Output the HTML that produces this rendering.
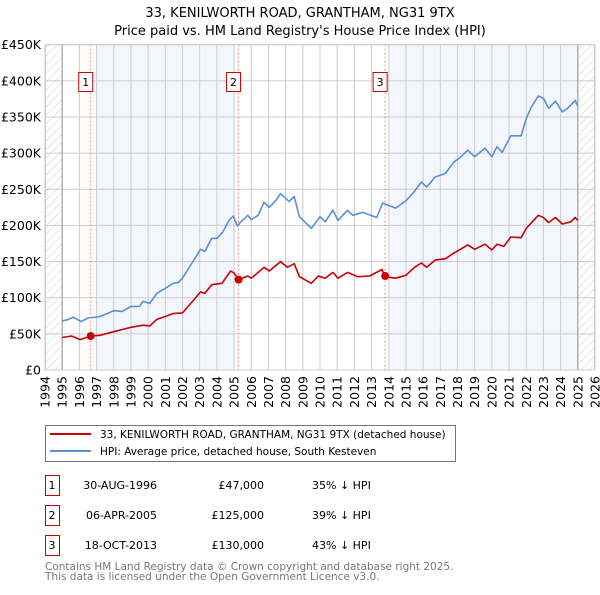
<!DOCTYPE html>
<html><head><meta charset="utf-8"><style>
body{margin:0;background:#fff;font-family:"Liberation Sans","DejaVu Sans",sans-serif;}
svg text{font-family:"DejaVu Sans","Liberation Sans",sans-serif;}
</style></head><body>
<svg id="chart" width="600" height="590" viewBox="0 0 600 590" xmlns="http://www.w3.org/2000/svg">
<defs>
<pattern id="hatch" patternUnits="userSpaceOnUse" width="6" height="6" patternTransform="rotate(45)">
<line x1="0" y1="0" x2="0" y2="6" stroke="#ccc" stroke-width="1"/></pattern>
</defs>
<text x="300" y="17" text-anchor="middle" font-size="13">33, KENILWORTH ROAD, GRANTHAM, NG31 9TX</text>
<text x="300" y="35" text-anchor="middle" font-size="13">Price paid vs. HM Land Registry's House Price Index (HPI)</text>
<g id="plot"></g>
<g>
<rect x="45.5" y="425.5" width="410" height="36" fill="#fff" stroke="#777"/>
<line x1="50" y1="434" x2="91" y2="434" stroke="#cc0000" stroke-width="2"/>
<text x="100" y="438" font-size="10.5">33, KENILWORTH ROAD, GRANTHAM, NG31 9TX (detached house)</text>
<line x1="50" y1="451" x2="91" y2="451" stroke="#5b8fd4" stroke-width="2"/>
<text x="100" y="455" font-size="10.5">HPI: Average price, detached house, South Kesteven</text>
</g>
<g id="table" font-size="11"></g>
<text x="45" y="570" font-size="10.5" fill="#777">Contains HM Land Registry data © Crown copyright and database right 2025.</text>
<text x="45" y="580" font-size="10.5" fill="#777">This data is licensed under the Open Government Licence v3.0.</text>
</svg>
<script>
const hpiYears=[1995,1995.25,1995.65,1996.1,1996.5,1997.2,1998,1998.5,1999,1999.5,1999.7,2000.1,2000.5,2001,2001.45,2001.75,2002,2002.55,2003.05,2003.3,2003.7,2004,2004.35,2004.7,2004.95,2005.2,2005.4,2005.8,2006,2006.4,2006.75,2007.05,2007.45,2007.7,2008.2,2008.5,2008.8,2009.5,2010,2010.3,2010.75,2011.05,2011.6,2011.9,2012.5,2013.3,2013.65,2014.4,2015,2015.5,2015.9,2016.2,2016.7,2017.3,2017.8,2018.1,2018.6,2019,2019.6,2020,2020.3,2020.6,2021.1,2021.7,2022,2022.3,2022.7,2023,2023.3,2023.7,2024.1,2024.4,2024.85,2025];
const hpiValues=[68,69,73,67,72,74,82,81,88,88,95,92,106,113,120,121,127,148,167,164,182,182,191,207,213,199,205,214,208,214,232,225,235,244,233,240,212,196,212,205,221,207,221,214,218,211,231,224,234,247,260,253,267,272,288,293,304,295,307,295,309,301,324,324,348,364,379,376,362,372,357,362,373,365];
const ppYears=[1995,1995.55,1996.05,1996.66,1997.2,1998,1999,1999.7,2000.1,2000.5,2001,2001.45,2002,2002.55,2003.05,2003.3,2003.7,2004.3,2004.8,2005.0,2005.26,2005.8,2006,2006.75,2007.05,2007.7,2008.1,2008.5,2008.8,2009.5,2009.9,2010.3,2010.75,2011.05,2011.6,2012.2,2012.9,2013.6,2013.79,2014.4,2015,2015.5,2015.9,2016.2,2016.7,2017.3,2017.8,2018.1,2018.6,2019,2019.6,2020,2020.3,2020.7,2021.1,2021.7,2022,2022.7,2023,2023.3,2023.7,2024.1,2024.6,2024.85,2025];
const ppValues=[45,47,42,47,48,53,59,62,61,70,74,78,79,94,108,106,118,120,137,134,125,130,127,142,137,150,142,147,129,120,130,127,135,127,135,129,130,139,129,127,131,142,148,142,152,154,162,166,173,167,174,166,174,171,184,183,196,214,211,204,211,202,205,211,207];
const saleLabels=["1","2","3"];
const saleYears=[1996.66,2005.26,2013.79];
const salePrices=[47,125,130];
const saleDates=["30-AUG-1996","06-APR-2005","18-OCT-2013"];
const salePriceText=["£47,000","£125,000","£130,000"];
const saleHpiText=["35% ↓ HPI","39% ↓ HPI","43% ↓ HPI"];
const yTicks=[0,50,100,150,200,250,300,350,400,450];
const yTickLabels=["£0","£50K","£100K","£150K","£200K","£250K","£300K","£350K","£400K","£450K"];
const xTicks=[1994,1995,1996,1997,1998,1999,2000,2001,2002,2003,2004,2005,2006,2007,2008,2009,2010,2011,2012,2013,2014,2015,2016,2017,2018,2019,2020,2021,2022,2023,2024,2025,2026];

const X0=45,X1=595,Y0=370,Y1=44.7,YMIN=1994,YMAX=2026;
const xs=y=>X0+(y-YMIN)/(YMAX-YMIN)*(X1-X0);
const ys=v=>Y0-(v/450)*(Y0-Y1);
const NS="http://www.w3.org/2000/svg";
const plot=document.getElementById('plot');
function mk(tag,attrs,parent){const e=document.createElementNS(NS,tag);for(const k in attrs)e.setAttribute(k,attrs[k]);(parent||plot).appendChild(e);return e;}

let r=mk('rect',{x:xs(1997),y:Y1,width:xs(2005)-xs(1997),height:Y0-Y1,fill:'#eef3fc',opacity:0.7});


r=mk('rect',{x:xs(2014),y:Y1,width:xs(2025)-xs(2014),height:Y0-Y1,fill:'#eef3fc',opacity:0.7});


r=mk('rect',{x:X0,y:Y1,width:xs(1995)-X0,height:Y0-Y1,fill:'url(#hatch)'});


r=mk('rect',{x:xs(2025),y:Y1,width:X1-xs(2025),height:Y0-Y1,fill:'url(#hatch)'});



yTicks.forEach((t,i)=>{
 const l=mk('line',{x1:X0,x2:X1,y1:ys(t),y2:ys(t),stroke:'#ccc','stroke-width':1});
 
 
 const tx=mk('text',{x:X0-4,y:ys(t)+4.5,'text-anchor':'end','font-size':12.5});
 tx.textContent=yTickLabels[i];
 
 
});
xTicks.forEach(t=>{
 const l=mk('line',{x1:xs(t),x2:xs(t),y1:Y1,y2:Y0,stroke:'#ccc','stroke-width':1});
 
 
 const tx=mk('text',{x:0,y:0,'text-anchor':'end','font-size':12.5,transform:`translate(${xs(t)+4.5},${Y0+6}) rotate(-90)`});
 tx.textContent=t;
 
 
});
let b=mk('line',{x1:xs(1995),x2:xs(1995),y1:Y1,y2:Y0,stroke:'#999','stroke-width':1});


b=mk('line',{x1:xs(2025),x2:xs(2025),y1:Y1,y2:Y0,stroke:'#999','stroke-width':1});



saleYears.forEach((s,i)=>{
 const l=mk('line',{x1:xs(s),x2:xs(s),y1:Y1,y2:Y0,stroke:'#e66','stroke-width':1,'stroke-dasharray':'1.5,2.5'});
 
 
 const bx=mk('rect',{x:xs(s)-12,y:72.5,width:14,height:19,fill:'#fff',stroke:'#c00','stroke-width':1});
 
 
 const tx=mk('text',{x:xs(s)-5,y:86,'text-anchor':'middle','font-size':11});
 tx.textContent=saleLabels[i];
 
 
});

function path(xsArr,vArr){return xsArr.map((y,i)=>(i?'L':'M')+xs(y).toFixed(1)+','+ys(vArr[i]).toFixed(1)).join(' ');}
let p=mk('path',{d:path(hpiYears,hpiValues),fill:'none',stroke:'#5b8fd4','stroke-width':1.6,'stroke-linejoin':'round'});


p=mk('path',{d:path(ppYears,ppValues),fill:'none',stroke:'#cc0000','stroke-width':1.6,'stroke-linejoin':'round'});


saleYears.forEach((s,i)=>{
 const c=mk('circle',{cx:xs(s),cy:ys(salePrices[i]),r:4,fill:'#cc0000'});
 
 
});
let fr=mk('rect',{x:X0+0.5,y:Y1,width:X1-X0-1,height:Y0-Y1,fill:'none',stroke:'#ccc'});



const tb=document.getElementById('table');
saleLabels.forEach((lab,i)=>{
 const y=475+i*30;
 const bx=mk('rect',{x:45.5,y:y+0.5,width:14,height:20,fill:'#fff',stroke:'#c00'},tb);
 
 
 const cells=[[52,'middle',lab],[157,'end',saleDates[i]],[264,'end',salePriceText[i]],[312,'start',saleHpiText[i]]];
 cells.forEach(([x,a,t],j)=>{
  const tx=mk('text',{x:x,y:y+14,'text-anchor':a,'font-size':11},tb);
  tx.textContent=t;
  
  
 });
});
</script>
</body></html>
